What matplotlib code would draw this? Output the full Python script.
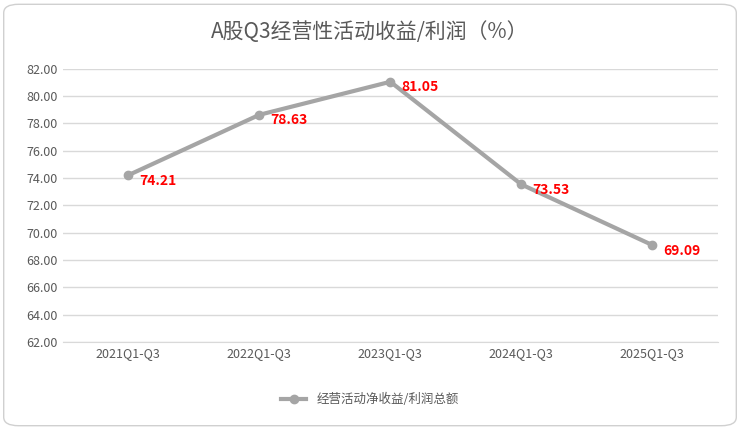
import matplotlib.pyplot as plt
from matplotlib.patches import FancyBboxPatch

plt.rcParams['font.family'] = ['Noto Sans CJK SC', 'DejaVu Sans']

periods = ['2021Q1-Q3', '2022Q1-Q3', '2023Q1-Q3', '2024Q1-Q3', '2025Q1-Q3']
values = [74.21, 78.63, 81.05, 73.53, 69.09]
yticks = [62, 64, 66, 68, 70, 72, 74, 76, 78, 80, 82]

fig = plt.figure(figsize=(7.4, 4.3), dpi=100)
border = FancyBboxPatch((0.005, 0.01), 0.99, 0.98, boxstyle='round,pad=0,rounding_size=0.02',
                        transform=fig.transFigure, fc='white', ec='#d0d0d0', lw=1, zorder=-10)
fig.patches.append(border)
ax = fig.add_axes([0.085, 0.205, 0.885, 0.635])
ax.patch.set_alpha(0)
x = range(len(periods))
ax.plot(x, values, color='#a5a5a5', lw=3, marker='o', ms=6, label='经营活动净收益/利润总额')
for i, v in zip(x, values):
    ax.annotate(f'{v:.2f}', (i, v), xytext=(8, -4), textcoords='offset points',
                color='#ff0000', fontweight='bold', fontsize=10, va='center')
ax.set_xlim(-0.5, len(periods) - 0.5)
ax.set_ylim(62, 82)
ax.set_yticks(yticks)
ax.set_yticklabels([f'{t:.2f}' for t in yticks], color='#595959', fontsize=9)
ax.set_xticks(list(x))
ax.set_xticklabels(periods, color='#595959', fontsize=9)
ax.grid(axis='y', color='#d9d9d9', lw=1)
ax.tick_params(length=0)
for s in ['top', 'right', 'left']:
    ax.spines[s].set_visible(False)
ax.spines['bottom'].set_color('#d9d9d9')
ax.set_axisbelow(True)
fig.text(0.5, 0.925, 'A股Q3经营性活动收益/利润（%）', ha='center', va='center', fontsize=15, color='#595959')
fig.legend(loc='center', bbox_to_anchor=(0.5, 0.07), frameon=False, fontsize=9, labelcolor='#595959')
fig.savefig('out.png')
